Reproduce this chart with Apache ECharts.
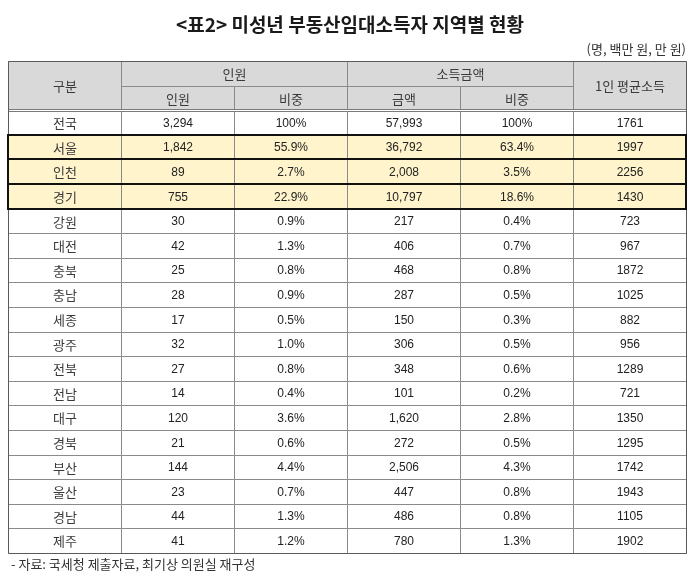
<!DOCTYPE html>
<html>
<head>
<meta charset="utf-8">
<script src="https://cdn.jsdelivr.net/npm/echarts@6/dist/echarts.min.js"></script>
<style>
html,body{margin:0;padding:0;background:#fff;}
#chart{width:700px;height:582px;}
</style>
</head>
<body>
<div id="chart"></div>
<script>
const titleText = '<표2> 미성년 부동산임대소득자 지역별 현황';
const unitText = '(명, 백만 원, 만 원)';
const sourceText = '- 자료: 국세청 제출자료, 최기상 의원실 재구성';
const headerTop = ['구분', '인원', '소득금액', '1인 평균소득'];
const headerSub = ['인원', '비중', '금액', '비중'];
const regions = ['전국','서울','인천','경기','강원','대전','충북','충남','세종','광주','전북','전남','대구','경북','부산','울산','경남','제주'];
const persons = [3294,1842,89,755,30,42,25,28,17,32,27,14,120,21,144,23,44,41];
const personShare = [100,55.9,2.7,22.9,0.9,1.3,0.8,0.9,0.5,1.0,0.8,0.4,3.6,0.6,4.4,0.7,1.3,1.2];
const amounts = [57993,36792,2008,10797,217,406,468,287,150,306,348,101,1620,272,2506,447,486,780];
const amountShare = [100,63.4,3.5,18.6,0.4,0.7,0.8,0.5,0.3,0.5,0.6,0.2,2.8,0.5,4.3,0.8,0.8,1.3];
const avgIncome = [1761,1997,2256,1430,723,967,1872,1025,882,956,1289,721,1350,1295,1742,1943,1105,1902];
const highlighted = ['서울','인천','경기'];

const fmtInt = v => v.toLocaleString('en-US');
const fmtPct = v => (v === 100 ? '100' : v.toFixed(1)) + '%';

const NCOL = 6;
const HEAD_ROWS = 2;
const NROW = HEAD_ROWS + regions.length;

// build cells: value [x, y, w, h]
const cells = [];
cells.push({value:[0,0,1,2], text:headerTop[0], kind:'head'});
cells.push({value:[1,0,2,1], text:headerTop[1], kind:'head'});
cells.push({value:[3,0,2,1], text:headerTop[2], kind:'head'});
cells.push({value:[5,0,1,2], text:headerTop[3], kind:'head'});
headerSub.forEach((t,i)=>cells.push({value:[1+i,1,1,1], text:t, kind:'head'}));
regions.forEach((r,i)=>{
  const y = HEAD_ROWS + i;
  const hl = highlighted.indexOf(r) >= 0;
  const k = hl ? 'hl' : 'body';
  const vals = [r, fmtInt(persons[i]), fmtPct(personShare[i]), fmtInt(amounts[i]), fmtPct(amountShare[i]), String(avgIncome[i])];
  vals.forEach((t,c)=>cells.push({value:[c,y,1,1], text:t, kind:k, kr: c===0}));
});
// double line under header
cells.push({value:[0,HEAD_ROWS,NCOL,0], text:'', kind:'double'});
// outer frame
cells.push({value:[0,0,NCOL,NROW], text:'', kind:'frame'});
// thick borders of highlighted rows
regions.forEach((r,i)=>{
  if (highlighted.indexOf(r) >= 0) cells.push({value:[0,HEAD_ROWS+i,NCOL,1], text:'', kind:'hlBorder'});
});

function renderItem(params, api) {
  const cell = cells[params.dataIndex];
  const x = api.value(0), y = api.value(1), w = api.value(2), h = api.value(3);
  const p0 = api.coord([x, y]);
  const p1 = api.coord([x + w, y + h]);
  const x0 = Math.round(p0[0]) + 0.5, y0 = Math.round(p0[1]) + 0.5;
  const x1 = Math.round(p1[0]) + 0.5, y1 = Math.round(p1[1]) + 0.5;
  const kind = cell.kind;
  if (kind === 'double') {
    return {type:'group', children:[
      {type:'rect', shape:{x:x0, y:y0-1, width:x1-x0, height:2}, style:{fill:'#ffffff', stroke:null}},
      {type:'line', shape:{x1:x0, y1:y0-1, x2:x1, y2:y0-1}, style:{stroke:'#7a7a7a', lineWidth:1}},
      {type:'line', shape:{x1:x0, y1:y0+1, x2:x1, y2:y0+1}, style:{stroke:'#7a7a7a', lineWidth:1}}
    ]};
  }
  if (kind === 'frame') {
    return {type:'rect', shape:{x:x0, y:y0, width:x1-x0, height:y1-y0}, style:{fill:null, stroke:'#5a5a5a', lineWidth:1}};
  }
  if (kind === 'hlBorder') {
    return {type:'rect', shape:{x:x0-0.5, y:y0-0.5, width:x1-x0, height:y1-y0}, style:{fill:null, stroke:'#111111', lineWidth:2}};
  }
  const fill = kind === 'head' ? '#d9d9d9' : (kind === 'hl' ? '#fff4cb' : '#ffffff');
  const isKr = kind === 'head' || cell.kr;
  return {type:'group', children:[
    {type:'rect', shape:{x:x0, y:y0, width:x1-x0, height:y1-y0}, style:{fill:fill, stroke:'#8a8a8a', lineWidth:1}},
    {type:'text', style:{
      text: cell.text, x:(x0+x1)/2, y:(y0+y1)/2 + 0.5, align:'center', verticalAlign:'middle',
      fill: isKr ? '#3a3a3a' : '#222222',
      font: isKr ? '13px "Noto Sans CJK KR"' : '12px "Liberation Sans", Arial, sans-serif'
    }}
  ]};
}

const chart = echarts.init(document.getElementById('chart'), null, {renderer:'canvas'});
chart.setOption({
  animation: false,
  backgroundColor: '#ffffff',
  title: [
    {text: titleText, left: 'center', top: 10, textStyle:{fontFamily:'"Noto Sans CJK KR"', fontSize:19, fontWeight:'bold', color:'#1a1a1a'}},
    {text: unitText, right: 9, top: 38, textStyle:{fontFamily:'"Noto Sans CJK KR"', fontSize:13, fontWeight:'normal', color:'#333'}},
    {text: sourceText, left: 6, top: 553, textStyle:{fontFamily:'"Noto Sans CJK KR"', fontSize:13, fontWeight:'normal', color:'#333'}}
  ],
  grid: {left: 8, right: 14, top: 61, bottom: 29},
  xAxis: {type:'value', min:0, max:NCOL, show:false},
  yAxis: {type:'value', min:0, max:NROW, inverse:true, show:false},
  series: [{
    type:'custom',
    renderItem: renderItem,
    data: cells.map(c => c.value),
    clip: false,
    silent: true
  }]
});
</script>
</body>
</html>
